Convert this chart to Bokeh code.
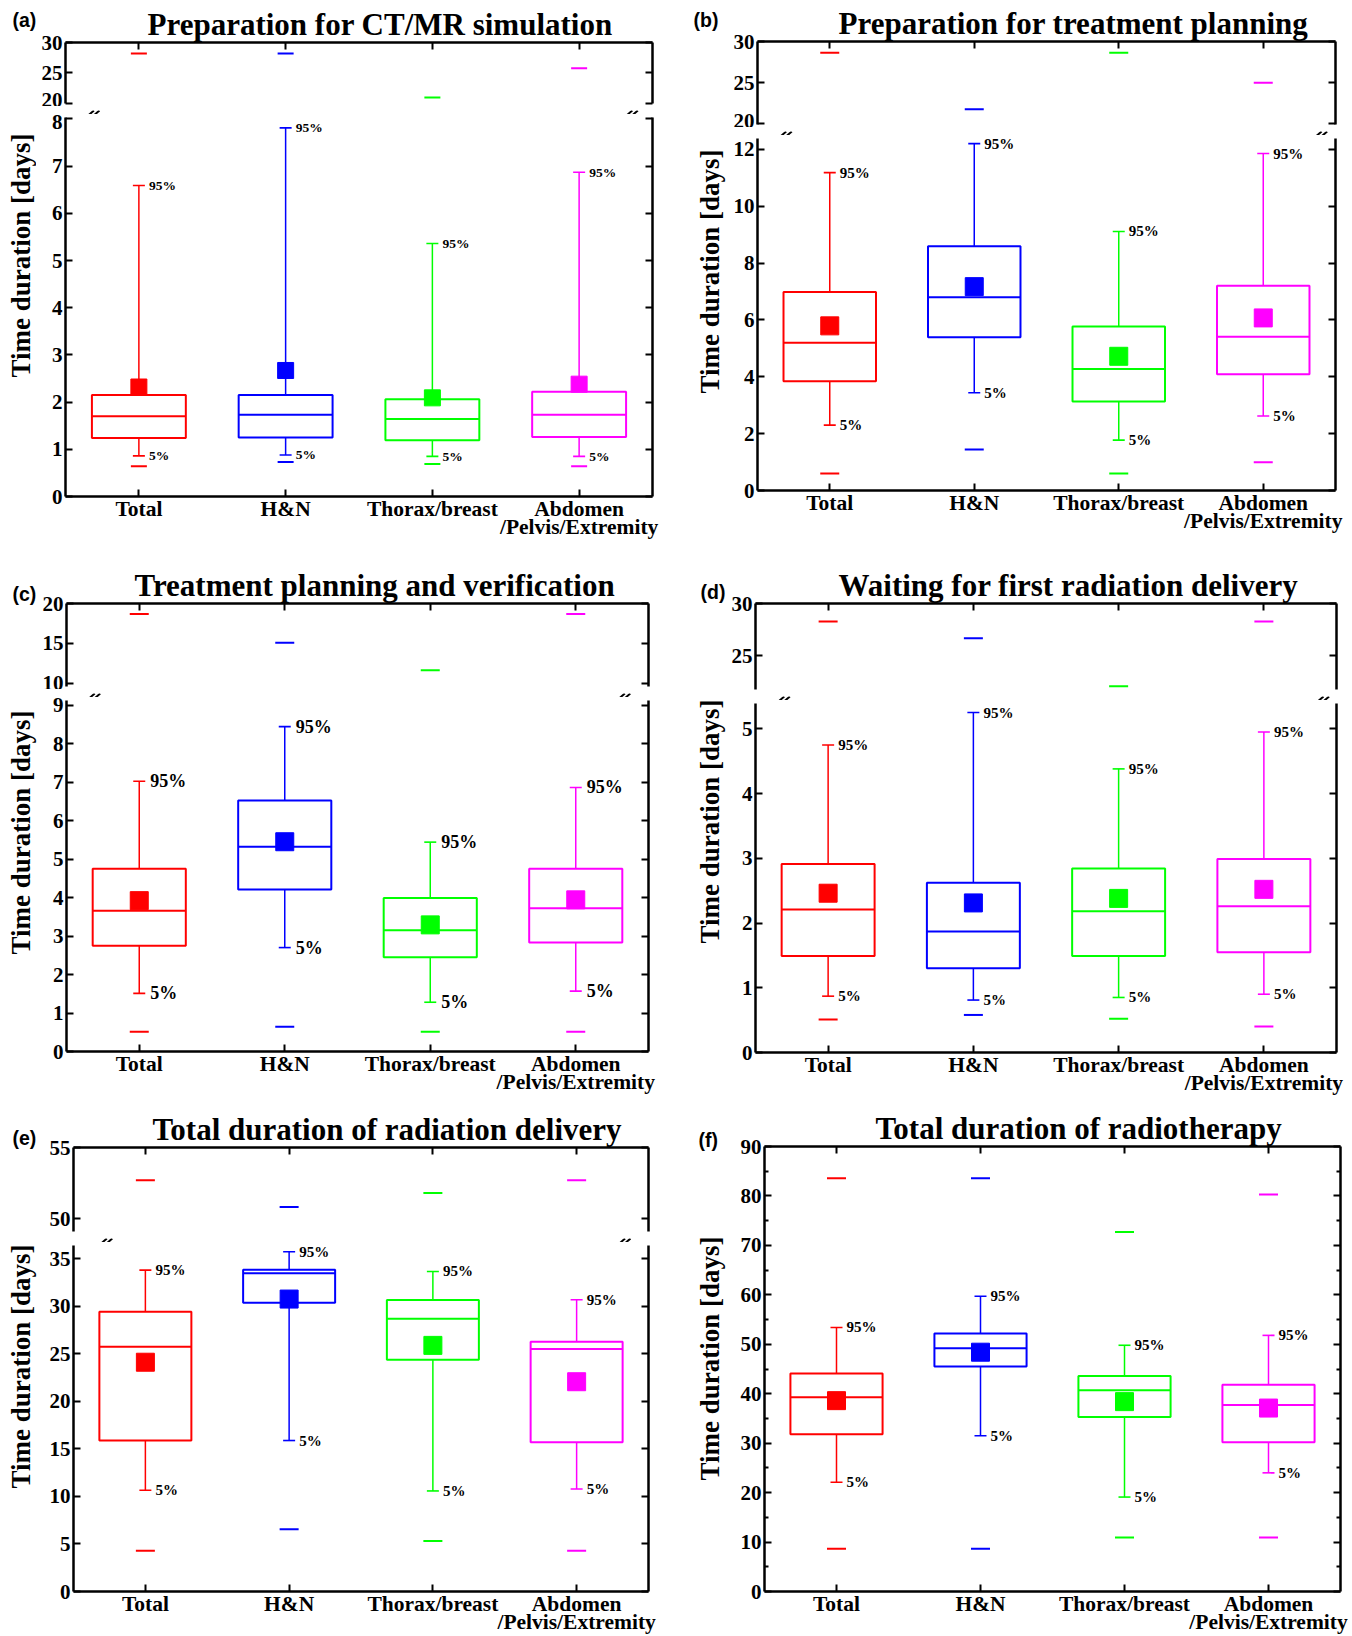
import math
from bokeh.plotting import figure
from bokeh.models import LinearAxis, FixedTicker, Range1d, ColumnDataSource
from bokeh.layouts import column, row
from bokeh.transform import dodge
from bokeh.embed import file_html
from bokeh.resources import INLINE
from bokeh.core.properties import value

# ---------------- data ----------------
categories = ["Total", "H&N", "Thorax/breast", "Abdomen\n/Pelvis/Extremity"]
colors = ["#FF0000", "#0000FF", "#00FF00", "#FF00FF"]
titles = ["Preparation for CT/MR simulation", "Preparation for treatment planning",
          "Treatment planning and verification", "Waiting for first radiation delivery",
          "Total duration of radiation delivery", "Total duration of radiotherapy"]
letters = ["(a)", "(b)", "(c)", "(d)", "(e)", "(f)"]
y_title = "Time duration [days]"

a_min = [0.64, 0.73, 0.69, 0.64]
a_p5 = [0.86, 0.88, 0.85, 0.85]
a_q1 = [1.24, 1.25, 1.19, 1.26]
a_med = [1.70, 1.73, 1.64, 1.73]
a_q3 = [2.15, 2.15, 2.06, 2.22]
a_p95 = [6.59, 7.81, 5.36, 6.87]
a_max = [28.2, 28.2, 20.9, 25.75]
a_mean = [2.32, 2.67, 2.09, 2.38]

b_min = [0.60, 1.44, 0.60, 0.99]
b_p5 = [2.30, 3.44, 1.77, 2.62]
b_q1 = [3.84, 5.39, 3.13, 4.09]
b_med = [5.20, 6.80, 4.27, 5.41]
b_q3 = [6.98, 8.59, 5.77, 7.20]
b_p95 = [11.18, 12.2, 9.11, 11.85]
b_max = [28.65, 21.77, 28.65, 25.0]
b_mean = [5.79, 7.17, 4.72, 6.07]

c_min = [0.51, 0.64, 0.51, 0.51]
c_p5 = [1.51, 2.70, 1.28, 1.57]
c_q1 = [2.75, 4.21, 2.45, 2.83]
c_med = [3.66, 5.32, 3.15, 3.72]
c_q3 = [4.75, 6.52, 3.99, 4.75]
c_p95 = [7.02, 8.44, 5.44, 6.86]
c_max = [18.69, 15.07, 11.62, 18.69]
c_mean = [3.92, 5.45, 3.29, 3.94]

d_min = [0.51, 0.58, 0.52, 0.40]
d_p5 = [0.87, 0.81, 0.85, 0.90]
d_q1 = [1.49, 1.30, 1.49, 1.55]
d_med = [2.21, 1.87, 2.18, 2.26]
d_q3 = [2.91, 2.62, 2.84, 2.99]
d_p95 = [4.75, 5.25, 4.38, 4.95]
d_max = [28.27, 26.67, 22.07, 28.27]
d_mean = [2.46, 2.31, 2.38, 2.52]

e_min = [4.28, 6.54, 5.30, 4.28]
e_p5 = [10.64, 15.87, 10.57, 10.78]
e_q1 = [15.87, 30.35, 24.35, 15.69]
e_med = [25.72, 33.46, 28.66, 25.48]
e_q3 = [29.4, 33.82, 30.64, 26.25]
e_p95 = [33.78, 35.72, 33.64, 30.67]
e_max = [52.71, 50.83, 51.82, 52.71]
e_mean = [24.1, 30.74, 25.87, 22.05]

f_min = [8.65, 8.65, 10.9, 10.9]
f_p5 = [22.1, 31.5, 19.1, 24.0]
f_q1 = [31.8, 45.5, 35.3, 30.2]
f_med = [39.3, 49.2, 40.7, 37.7]
f_q3 = [44.1, 52.2, 43.6, 41.8]
f_p95 = [53.4, 59.7, 49.8, 51.8]
f_max = [83.6, 83.6, 72.7, 80.3]
f_mean = [38.6, 48.4, 38.4, 37.1]

# y tick values (upper segment / lower segment)
a_ticks_top = [20, 25, 30]
a_ticks_low = [0, 1, 2, 3, 4, 5, 6, 7, 8]
b_ticks_top = [20, 25, 30]
b_ticks_low = [0, 2, 4, 6, 8, 10, 12]
c_ticks_top = [10, 15, 20]
c_ticks_low = [0, 1, 2, 3, 4, 5, 6, 7, 8, 9]
d_ticks_top = [25, 30]
d_ticks_low = [0, 1, 2, 3, 4, 5]
e_ticks_top = [50, 55]
e_ticks_low = [0, 5, 10, 15, 20, 25, 30, 35]
f_ticks = [0, 10, 20, 30, 40, 50, 60, 70, 80, 90]
f_minor = [5, 15, 25, 35, 45, 55, 65, 75, 85]

# ---------------- layout (page pixels) ----------------
SERIF = "Liberation Serif"
SANS = "Liberation Sans"

LAYOUT = [
    dict(cell=(0, 0, 676, 553), strip=36, L=65, R=652,
         segs=[(42, 103, 19.93, 30.0), (117, 496, 0.0, 8.03)],
         title=147, letter=(12, 19), ylabel=(20, 255),
         sq=16, ext=16, cap=12, pct="13.5px", off=10),
    dict(cell=(676, 0, 676, 553), strip=52, L=757, R=1335,
         segs=[(41, 124, 19.93, 30.0), (138, 490, 0.0, 12.38)],
         title=838, letter=(693, 19), ylabel=(709, 271),
         sq=18, ext=19, cap=12, pct="15px", off=10),
    dict(cell=(0, 553, 676, 547), strip=37, L=66, R=648,
         segs=[(603, 686, 9.57, 20.0), (700, 1051, 0.0, 9.12)],
         title=134, letter=(12, 593), ylabel=(20, 832),
         sq=18, ext=19, cap=12, pct="18px", off=11),
    dict(cell=(676, 553, 676, 547), strip=50, L=755, R=1336,
         segs=[(603, 689, 21.75, 30.0), (703, 1052, 0.0, 5.39)],
         title=838, letter=(700, 591), ylabel=(709, 821),
         sq=18, ext=19, cap=12, pct="15px", off=10),
    dict(cell=(0, 1100, 676, 536), strip=38, L=73, R=648,
         segs=[(1147, 1231, 49.12, 55.0), (1245, 1592, 0.0, 36.37)],
         title=152, letter=(12, 1137), ylabel=(20, 1366),
         sq=18, ext=19, cap=12, pct="15px", off=10),
    dict(cell=(676, 1100, 676, 536), strip=52, L=764, R=1340,
         segs=[(1146, 1593, 0.0, 90.0)],
         title=875, letter=(698, 1139), ylabel=(709, 1358),
         sq=18, ext=19, cap=12, pct="15px", off=10),
]

DATA = [
    (a_min, a_p5, a_q1, a_med, a_q3, a_p95, a_max, a_mean, [(a_ticks_top, []), (a_ticks_low, [])]),
    (b_min, b_p5, b_q1, b_med, b_q3, b_p95, b_max, b_mean, [(b_ticks_top, []), (b_ticks_low, [])]),
    (c_min, c_p5, c_q1, c_med, c_q3, c_p95, c_max, c_mean, [(c_ticks_top, []), (c_ticks_low, [])]),
    (d_min, d_p5, d_q1, d_med, d_q3, d_p95, d_max, d_mean, [(d_ticks_top, []), (d_ticks_low, [])]),
    (e_min, e_p5, e_q1, e_med, e_q3, e_p95, e_max, e_mean, [(e_ticks_top, []), (e_ticks_low, [])]),
    (f_min, f_p5, f_q1, f_med, f_q3, f_p95, f_max, f_mean, [(f_ticks, f_minor)]),
]

BRK = 3  # canvas margin kept on each side of a broken axis


def blank_fig(w, h, xr, yr):
    p = figure(width=w, height=h, x_range=xr, y_range=yr,
               output_backend="svg", toolbar_location=None, tools="",
               x_axis_location=None, y_axis_location=None,
               min_border_left=0, min_border_right=0, min_border_top=0, min_border_bottom=0,
               background_fill_color="white", border_fill_color="white")
    p.outline_line_color = None
    p.xgrid.visible = False
    p.ygrid.visible = False
    return p


def fmt_axis(ax, labelled):
    ax.axis_line_color = "black"
    ax.axis_line_width = 2.5
    ax.major_tick_line_color = "black"
    ax.major_tick_line_width = 2
    ax.major_tick_in = 7
    ax.major_tick_out = 0
    ax.minor_tick_line_color = "black"
    ax.minor_tick_line_width = 2
    ax.minor_tick_in = 4
    ax.minor_tick_out = 0
    if labelled:
        ax.major_label_text_font = SERIF
        ax.major_label_text_font_style = "bold"
        ax.major_label_text_font_size = "21px"
        ax.major_label_text_color = "black"
        ax.major_label_standoff = 3
    else:
        ax.major_label_text_font_size = "0px"
        ax.major_label_text_color = None
        ax.major_label_standoff = 0


def build_panel(i):
    lay = LAYOUT[i]
    mn, p5, q1, med, q3, p95, mx, mean, ticks = DATA[i]
    x0, y0, w, h = lay["cell"]
    sw = lay["strip"]
    L, R = lay["L"], lay["R"]
    mw = w - sw
    src = ColumnDataSource(dict(x=[1, 2, 3, 4], color=colors, mn=mn, p5=p5, q1=q1,
                                med=med, q3=q3, p95=p95, mx=mx, mean=mean))
    segs = lay["segs"]
    n = len(segs)
    parts = []
    for k, (T, B, ymin, ymax) in enumerate(segs):
        first, last = (k == 0), (k == n - 1)
        top_edge = y0 if first else T - BRK
        bot_edge = (y0 + h) if last else B + BRK
        p = figure(width=mw, height=bot_edge - top_edge,
                   x_range=Range1d(0.5, 4.5), y_range=Range1d(ymin, ymax),
                   output_backend="svg", toolbar_location=None, tools="",
                   x_axis_location=None, y_axis_location=None,
                   min_border_left=L - (x0 + sw), min_border_right=x0 + w - R,
                   min_border_top=T - top_edge, min_border_bottom=bot_edge - B,
                   background_fill_color="white", border_fill_color="white")
        p.outline_line_color = None
        p.xgrid.visible = False
        p.ygrid.visible = False

        yt, ym = ticks[k]
        for side, lab in (("left", True), ("right", False)):
            ax = LinearAxis(ticker=FixedTicker(ticks=yt, minor_ticks=ym))
            fmt_axis(ax, lab)
            p.add_layout(ax, side)
        if first:
            ax = LinearAxis(ticker=FixedTicker(ticks=[1, 2, 3, 4], minor_ticks=[]))
            fmt_axis(ax, False)
            p.add_layout(ax, "above")
            p.title.text = titles[i]
            p.title.text_font = SERIF
            p.title.text_font_style = "bold"
            p.title.text_font_size = "31px"
            p.title.text_color = "black"
            p.title.align = "left"
            p.title.standoff = 2
            p.title.offset = lay["title"] - L
        if last:
            ax = LinearAxis(ticker=FixedTicker(ticks=[1, 2, 3, 4], minor_ticks=[]))
            fmt_axis(ax, True)
            ax.major_label_overrides = {j + 1: c for j, c in enumerate(categories)}
            ax.major_label_text_font_size = "21.5px"
            ax.major_label_standoff = 0
            ax.major_label_text_line_height = 0.75
            p.add_layout(ax, "below")

        if last:
            p.segment(x0="x", y0="q3", x1="x", y1="p95", line_color="color", line_width=1.5, source=src)
            p.segment(x0="x", y0="q1", x1="x", y1="p5", line_color="color", line_width=1.5, source=src)
            p.vbar(x="x", width=0.64, bottom="q1", top="q3", fill_color=None,
                   line_color="color", line_width=2, source=src)
            p.segment(x0=dodge("x", -0.32), y0="med", x1=dodge("x", 0.32), y1="med",
                      line_color="color", line_width=2, source=src)
            for col in ("p95", "p5"):
                p.scatter(x="x", y=col, marker="dash", size=lay["cap"], line_color="color",
                          line_width=1.6, source=src)
        for col in ("mx", "mn"):
            p.scatter(x="x", y=col, marker="dash", size=lay["ext"], line_color="color",
                      line_width=2, source=src)
        if last:
            p.scatter(x="x", y="mean", marker="square", size=lay["sq"], fill_color="color",
                      line_color="color", line_width=1, source=src)
            for col, txt in (("p95", "95%"), ("p5", "5%")):
                p.text(x="x", y=col, text=value(txt), x_offset=lay["off"], text_align="left",
                       text_baseline="middle", text_font=value(SERIF), text_font_style="bold",
                       text_font_size=value(lay["pct"]), text_color="black", source=src)
        parts.append(p)
        if not last:
            # gap figure carrying the axis-break marks
            gt = B + BRK
            gb = segs[k + 1][0] - BRK
            g = blank_fig(mw, gb - gt, Range1d(x0 + sw, x0 + w), Range1d(gb, gt))
            bx0, bx1 = [], []
            for axx in (L, R):
                for dx in (-3.0, 3.0):
                    bx0.append(axx + dx - 5)
                    bx1.append(axx + dx + 5)
            g.segment(x0=bx0, y0=[gb] * 4, x1=bx1, y1=[gt] * 4,
                      line_color="black", line_width=2)
            parts.append(g)

    # left strip with panel letter and y-axis title
    s = blank_fig(sw, h, Range1d(x0, x0 + sw), Range1d(y0 + h, y0))
    lx, ly = lay["letter"]
    s.text(x=[lx], y=[ly], text=[letters[i]], text_align="left", text_baseline="middle",
           text_font=value(SANS), text_font_style="bold", text_font_size=value("19.5px"),
           text_color="black")
    yx, yy = lay["ylabel"]
    s.text(x=[yx], y=[yy], text=[y_title], angle=math.pi / 2, text_align="center",
           text_baseline="middle", text_font=value(SERIF), text_font_style="bold",
           text_font_size=value("27px"), text_color="black")
    return row(s, column(*parts))


panels = [build_panel(i) for i in range(6)]
layout = column(row(panels[0], panels[1]), row(panels[2], panels[3]), row(panels[4], panels[5]))

open("out.html", "w").write(file_html(layout, INLINE))
